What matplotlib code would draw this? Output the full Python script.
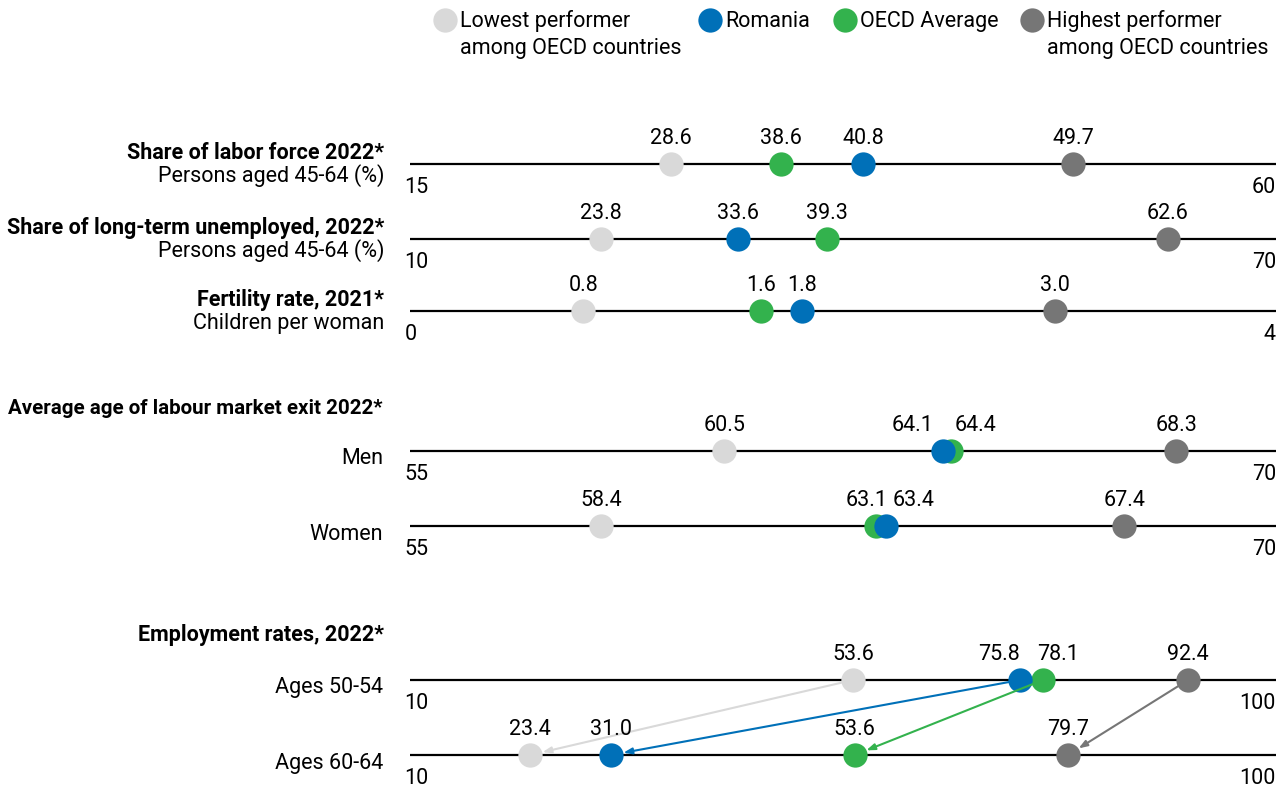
import matplotlib
matplotlib.use('Agg')
import matplotlib.pyplot as plt
from matplotlib.lines import Line2D

plt.rcParams['font.family'] = ['Roboto', 'DejaVu Sans']

# printed values per row, top to bottom
lowest = [28.6, 23.8, 0.8, 60.5, 58.4, 53.6, 23.4]
romania = [40.8, 33.6, 1.8, 64.1, 63.4, 75.8, 31.0]
oecd = [38.6, 39.3, 1.6, 64.4, 63.1, 78.1, 53.6]
highest = [49.7, 62.6, 3.0, 68.3, 67.4, 92.4, 79.7]
# where the dots actually sit in the source chart (read off the scale, not always = label)
lowest_pos = [28.56, 23.23, 0.80, 60.44, 58.31, 56.04, 22.50]
romania_pos = [38.54, 32.72, 1.81, 64.23, 63.24, 73.40, 30.89]
oecd_pos = [34.28, 38.89, 1.62, 64.37, 63.07, 75.79, 56.21]
highest_pos = [49.45, 62.52, 2.98, 68.27, 67.37, 90.86, 78.38]
axis_min = [15, 10, 0, 55, 55, 10, 10]
axis_max = [60, 70, 4, 70, 70, 100, 100]
row_titles = ['Share of labor force 2022*', 'Share of long-term unemployed, 2022*',
              'Fertility rate, 2021*', '', '', '', '']
row_labels = ['Persons aged 45-64 (%)', 'Persons aged 45-64 (%)', 'Children per woman',
              'Men', 'Women', 'Ages 50-54', 'Ages 60-64']
group_titles = {3: 'Average age of labour market exit 2022*', 5: 'Employment rates, 2022*'}
legend_labels = ['Lowest performer\namong OECD countries', 'Romania', 'OECD Average',
                 'Highest performer\namong OECD countries']

C_LOW = '#d9d9d9'
C_ROM = '#0070b8'
C_OECD = '#33b24d'
C_HIGH = '#767676'
FS = 15.5

W, H = 1287, 787
row_y = [164, 239, 311, 451, 526, 680, 755]
line_x0, line_x1 = 410, 1276
group_y = {3: 408, 5: 635}
# horizontal nudges (px) for value labels that would overlap
nudge = {(3, 'rom'): -30, (3, 'oecd'): 25, (4, 'oecd'): -9, (4, 'rom'): 28,
         (5, 'rom'): -21, (5, 'oecd'): 15}


def fx(x):
    return x / W


def fy(y):
    return 1 - y / H


fig = plt.figure(figsize=(W / 100, H / 100), dpi=100)

axes = []
for i in range(len(row_y)):
    ax = fig.add_axes([fx(line_x0), fy(row_y[i] + 30), fx(line_x1 - line_x0), 60 / H])
    ax.set_xlim(axis_min[i], axis_max[i])
    ax.set_ylim(30, -30)  # pixel-like units, y grows downward
    ax.axis('off')
    ax.axhline(0, color='black', lw=1.6, zorder=1)
    ax.annotate(str(axis_min[i]), (axis_min[i], 13), xytext=(-4, 0), textcoords='offset points',
                ha='left', va='top', fontsize=FS)
    ax.text(axis_max[i], 13, str(axis_max[i]), ha='right', va='top', fontsize=FS)
    series = [('low', lowest[i], lowest_pos[i], C_LOW), ('high', highest[i], highest_pos[i], C_HIGH),
              ('oecd', oecd[i], oecd_pos[i], C_OECD), ('rom', romania[i], romania_pos[i], C_ROM)]
    for key, v, p, c in series:
        ax.plot([p], [0], 'o', ms=17.5, color=c, mec='none', zorder=3, clip_on=False)
        ax.annotate('{:.1f}'.format(v), (p, 0), xytext=(nudge.get((i, key), 0) * 0.72, 11),
                    textcoords='offset points', ha='center', va='bottom', fontsize=FS)
    if row_titles[i]:
        fig.text(fx(384), fy(row_y[i] - 11), row_titles[i], ha='right', va='center',
                 fontsize=FS, fontweight='bold')
        fig.text(fx(384), fy(row_y[i] + 12), row_labels[i], ha='right', va='center', fontsize=FS)
    else:
        fig.text(fx(383), fy(row_y[i] + 8), row_labels[i], ha='right', va='center', fontsize=FS)
    axes.append(ax)

fig.text(fx(8), fy(group_y[3]), group_titles[3], ha='left', va='center', fontsize=14.8,
         fontweight='bold')
fig.text(fx(384), fy(group_y[5]), group_titles[5], ha='right', va='center', fontsize=FS,
         fontweight='bold')

# arrows between the two employment rows
top, bot = axes[5], axes[6]
for pos, c in [(lowest_pos, C_LOW), (highest_pos, C_HIGH), (oecd_pos, C_OECD), (romania_pos, C_ROM)]:
    bot.annotate('', xy=(pos[6], 0), xycoords=bot.transData,
                 xytext=(pos[5], 0), textcoords=top.transData,
                 arrowprops=dict(arrowstyle='-|>,head_length=0.5,head_width=0.18', color=c,
                                 lw=1.5, shrinkA=8, shrinkB=9), zorder=2)

# legend
leg_x = [445, 710, 845, 1032]
for x, c, lab in zip(leg_x, [C_LOW, C_ROM, C_OECD, C_HIGH], legend_labels):
    fig.add_artist(Line2D([fx(x)], [fy(20)], marker='o', ms=17.5, color=c, mec='none',
                          transform=fig.transFigure))
    for k, line in enumerate(lab.split('\n')):
        fig.text(fx(x + 15), fy(27 + 27 * k), line, ha='left', va='baseline', fontsize=FS)

fig.savefig('out.png', dpi=100, facecolor='white')
